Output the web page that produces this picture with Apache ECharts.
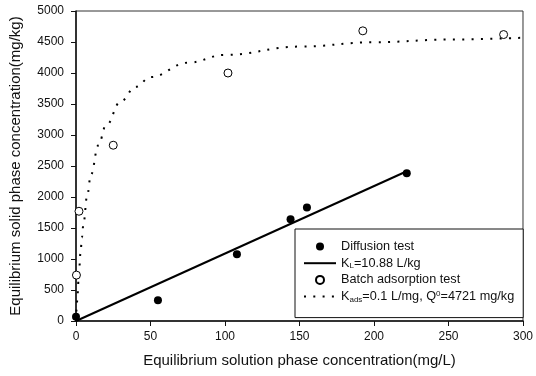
<!DOCTYPE html>
<html><head><meta charset="utf-8">
<script src="https://cdn.jsdelivr.net/npm/echarts@6/dist/echarts.min.js"></script>
<style>html,body{margin:0;padding:0;background:#fff}#c{width:536px;height:376px}</style>
</head><body><div id="c"></div>
<script>
// Diffusion test (filled circles)
var diffusionX = [0, 55, 108, 144, 155, 222];
var diffusionY = [70, 335, 1075, 1640, 1830, 2385];
// Linear fit K_L = 10.88 L/kg
var linX = [0, 222];
var linY = [0, 2415];
// Batch adsorption test (open circles)
var batchX = [0.3, 2, 25, 102, 192.5, 287];
var batchY = [740, 1770, 2835, 4000, 4680, 4620];
// Langmuir fit curve
var curveX = [0, 0.5, 1, 2, 3, 4, 5, 7.5, 10, 15, 20, 30, 40, 50, 75, 100, 150, 200, 250, 300];
var curveY = [0, 225, 429, 787, 1089, 1349, 1574, 2023, 2360, 2833, 3147, 3541, 3777, 3934, 4166, 4292, 4426, 4496, 4539, 4569];
// Axis ticks
var xTicks = [0, 50, 100, 150, 200, 250, 300];
var yTicks = [0, 500, 1000, 1500, 2000, 2500, 3000, 3500, 4000, 4500, 5000];

function zip(a, b) { return a.map(function (v, i) { return [v, b[i]]; }); }

var FONT = '"Liberation Sans", Arial, sans-serif';
var LF = 12.7;
var chart = echarts.init(document.getElementById('c'), null, { renderer: 'canvas' });
var names = ['Diffusion test', 'KL', 'Batch adsorption test', 'Kads'];
var hidden = { color: 'rgba(0,0,0,0)', borderColor: 'rgba(0,0,0,0)', borderWidth: 0 };
chart.setOption({
  animation: false,
  backgroundColor: '#fff',
  grid: { left: 73.5, top: 11, width: 452, height: 310, show: true, borderColor: '#333', borderWidth: 1, backgroundColor: 'transparent' },
  xAxis: {
    type: 'value', min: xTicks[0], max: xTicks[xTicks.length - 1], interval: 50,
    name: 'Equilibrium solution phase concentration(mg/L)', nameLocation: 'middle', nameGap: 32,
    nameTextStyle: { fontFamily: FONT, fontSize: 15, color: '#111' },
    axisLine: { lineStyle: { color: '#111', width: 1.5 } },
    axisTick: { inside: false, length: 5, lineStyle: { color: '#111' } },
    axisLabel: { fontFamily: FONT, fontSize: 12, color: '#111', margin: 10, formatter: function (v) { return String(v); } },
    splitLine: { show: false }
  },
  yAxis: {
    type: 'value', min: yTicks[0], max: yTicks[yTicks.length - 1], interval: 500,
    name: 'Equilibrium solid phase concentration(mg/kg)', nameLocation: 'middle', nameGap: 53,
    nameTextStyle: { fontFamily: FONT, fontSize: 15, color: '#111' },
    axisLine: { show: true, lineStyle: { color: '#111', width: 1.5 } },
    axisTick: { show: true, inside: false, length: 5, lineStyle: { color: '#111' } },
    axisLabel: { fontFamily: FONT, fontSize: 12, color: '#111', margin: 12, formatter: function (v) { return String(v); } },
    splitLine: { show: false }
  },
  legend: {
    orient: 'vertical', left: 295, top: 229,
    padding: [10.5, 9, 14, 8], itemGap: 2.7, itemWidth: 32, itemHeight: 8,
    borderColor: '#111', borderWidth: 1, backgroundColor: '#fff',
    data: [
      { name: names[0] },
      { name: names[1], itemStyle: hidden },
      { name: names[2] },
      { name: names[3], itemStyle: hidden }
    ],
    textStyle: {
      fontFamily: FONT, fontSize: LF, color: '#111', lineHeight: 14,
      rich: {
        n: { fontFamily: FONT, fontSize: LF, color: '#111', lineHeight: 14 },
        sub: { fontFamily: FONT, fontSize: 8, color: '#111', padding: [6, 0, 0, 0] },
        sup: { fontFamily: FONT, fontSize: 8, color: '#111', padding: [0, 0, 6, 0] }
      }
    },
    formatter: function (n) {
      if (n === 'KL') return '{n|K}{sub|L}{n|=10.88 L/kg}';
      if (n === 'Kads') return '{n|K}{sub|ads}{n|=0.1 L/mg, Q}{sup|0}{n|=4721 mg/kg}';
      return '{n|' + n + '}';
    }
  },
  series: [
    { name: names[0], type: 'scatter', data: zip(diffusionX, diffusionY), symbol: 'circle', symbolSize: 8,
      itemStyle: { color: '#000', opacity: 1 }, z: 5 },
    { name: names[1], type: 'line', data: zip(linX, linY), symbol: 'none', showSymbol: false,
      lineStyle: { color: '#000', width: 2 }, itemStyle: { color: '#000' }, z: 3 },
    { name: names[2], type: 'scatter', data: zip(batchX, batchY), symbol: 'circle', symbolSize: 8,
      itemStyle: { color: '#fff', borderColor: '#000', borderWidth: 1, opacity: 1 }, z: 5 },
    { name: names[3], type: 'line', data: zip(curveX, curveY), symbol: 'none', showSymbol: false,
      smooth: 0.4, smoothMonotone: 'x',
      lineStyle: { color: '#000', width: 2, type: [2, 7.3], cap: 'butt' }, itemStyle: { color: '#000' }, z: 3 }
  ]
});
</script></body></html>
